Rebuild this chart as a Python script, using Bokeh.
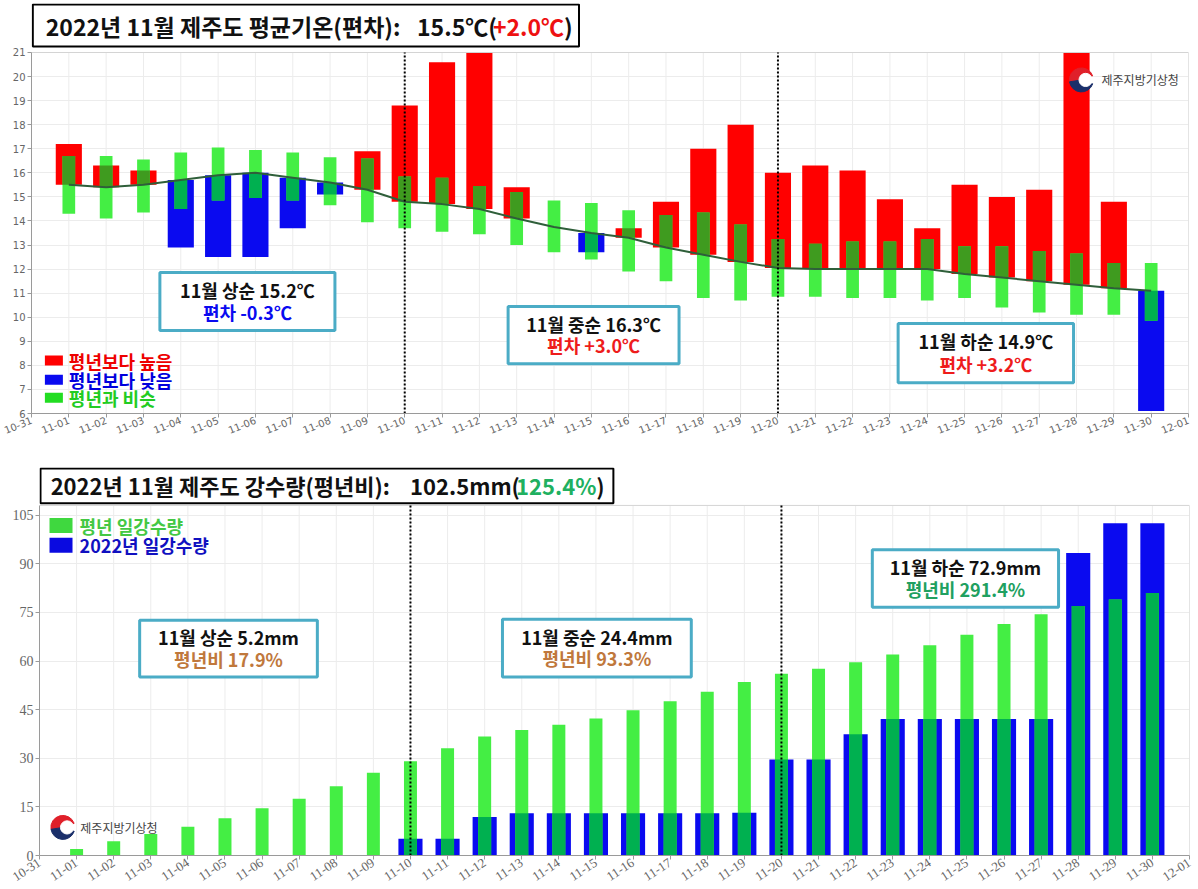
import numpy as np
from bokeh.plotting import figure
from bokeh.models import Range1d, FixedTicker, BoxAnnotation, Label, Spacer
from bokeh.layouts import column, row
from bokeh.embed import file_html
from bokeh.resources import INLINE
from bokeh.core.properties import value

# ---------------- data ----------------
tick_labels = ["10-31", "11-01", "11-02", "11-03", "11-04", "11-05", "11-06", "11-07",
               "11-08", "11-09", "11-10", "11-11", "11-12", "11-13", "11-14", "11-15",
               "11-16", "11-17", "11-18", "11-19", "11-20", "11-21", "11-22", "11-23",
               "11-24", "11-25", "11-26", "11-27", "11-28", "11-29", "11-30", "12-01"]
days = ["11-01", "11-02", "11-03", "11-04", "11-05", "11-06", "11-07", "11-08", "11-09", "11-10",
        "11-11", "11-12", "11-13", "11-14", "11-15", "11-16", "11-17", "11-18", "11-19", "11-20",
        "11-21", "11-22", "11-23", "11-24", "11-25", "11-26", "11-27", "11-28", "11-29", "11-30"]

# daily mean temperature 2022 (degC)
temp_2022 = [17.2, 16.3, 16.1, 12.9, 12.5, 12.5, 13.7, 15.1, 16.9, 18.8,
             20.6, 21.1, 15.4, 13.75, 12.7, 13.7, 14.8, 17.0, 18.0, 16.0,
             16.3, 16.1, 14.9, 13.7, 15.5, 15.0, 15.3, 21.3, 14.8, 6.1]
# normal daily mean temperature (degC)
temp_normal = [15.5, 15.4, 15.5, 15.7, 15.9, 16.0, 15.8, 15.6, 15.3, 14.8,
               14.7, 14.5, 14.1, 13.75, 13.5, 13.3, 12.9, 12.6, 12.3, 12.05,
               12.0, 12.0, 12.0, 12.0, 11.8, 11.65, 11.5, 11.35, 11.2, 11.1]
# range regarded as "similar to normal" (degC)
temp_sim_low = [14.3, 14.1, 14.35, 14.5, 14.85, 14.95, 14.85, 14.65, 13.95, 13.7,
                13.55, 13.45, 13.0, 12.7, 12.4, 11.9, 11.5, 10.8, 10.7, 10.85,
                10.85, 10.8, 10.8, 10.7, 10.8, 10.4, 10.2, 10.1, 10.1, 9.85]
temp_sim_high = [16.7, 16.7, 16.55, 16.85, 17.05, 16.95, 16.85, 16.65, 16.6, 15.85,
                 15.8, 15.45, 15.2, 14.85, 14.75, 14.45, 14.25, 14.35, 13.85, 13.25,
                 13.05, 13.15, 13.15, 13.25, 12.95, 12.95, 12.75, 12.65, 12.25, 12.25]

# cumulative precipitation (mm)
rain_normal_cum = [2.0, 4.4, 6.6, 8.9, 11.5, 14.6, 17.5, 21.4, 25.5, 29.1,
                   33.1, 36.7, 38.7, 40.3, 42.3, 44.8, 47.6, 50.5, 53.5, 56.1,
                   57.6, 59.6, 62.0, 64.9, 68.1, 71.4, 74.4, 77.0, 79.0, 81.0]
rain_2022_cum = [0.0, 0.0, 0.0, 0.0, 0.0, 0.0, 0.0, 0.0, 0.0, 5.2,
                 5.2, 11.9, 13.0, 13.0, 13.0, 13.0, 13.0, 13.0, 13.2, 29.6,
                 29.6, 37.4, 42.1, 42.1, 42.1, 42.1, 42.1, 93.3, 102.5, 102.5]

dekad_names = ["11월 상순", "11월 중순", "11월 하순"]
dekad_bounds = ["11-10", "11-20"]
temp_dekad_mean = [15.2, 16.3, 14.9]
temp_dekad_anom = [-0.3, 3.0, 3.2]
rain_dekad_total = [5.2, 24.4, 72.9]
rain_dekad_ratio = [17.9, 93.3, 291.4]

temp_month = 15.5
temp_month_anom = 2.0
rain_month = 102.5
rain_month_ratio = 125.4

temp_yticks = list(range(6, 22))
rain_yticks = [0, 15, 30, 45, 60, 75, 90, 105]

temp_legend = ["평년보다 높음", "평년보다 낮음", "평년과 비슷"]
rain_legend = ["평년 일강수량", "2022년 일강수량"]
logo_text = "제주지방기상청"

# ---------------- style ----------------
FONT = "Noto Sans CJK KR"
RED = "#ff0000"
BLUE = "#0a0af0"
LGREEN = "#44ee44"
DGREEN_R = "#3f9b1f"
DGREEN_B = "#00b050"
TEAL = "#4bacc6"
LINE = "#2f5f3a"
FRAME = "#d4d4d4"
GRID = "#ececec"

x = np.array([tick_labels.index(d) for d in days], dtype=float)
xb = [tick_labels.index(d) for d in dekad_bounds]
xt = list(range(len(tick_labels)))


def base_fig(w, h, left, right, top, bottom, ylo, yhi, ytop):
    p = figure(width=w, height=h, x_range=Range1d(0, len(tick_labels) - 1),
               y_range=Range1d(ylo, ytop), output_backend="svg", toolbar_location=None,
               min_border_left=left, min_border_right=right, min_border_top=top,
               min_border_bottom=bottom)
    p.outline_line_color = None
    p.xgrid.visible = False
    p.ygrid.grid_line_color = GRID
    # vertical grid lines limited to the plotting area (title box sits above it)
    p.segment(x0=xt, y0=[ylo] * len(xt), x1=xt, y1=[yhi] * len(xt), line_color=GRID,
              line_width=1)
    return p


def style_axes(p, xfont, xsize, xangle, yfont, ysize, yticks, ybounds):
    p.xaxis.ticker = FixedTicker(ticks=xt)
    p.xaxis.major_label_overrides = {i: lab for i, lab in enumerate(tick_labels)}
    p.xaxis.major_label_orientation = xangle
    p.yaxis.ticker = FixedTicker(ticks=yticks)
    p.yaxis.bounds = ybounds
    for ax in (p.xaxis, p.yaxis):
        ax.axis_line_color = "#9a9a9a"
        ax.major_tick_line_color = "#9a9a9a"
        ax.minor_tick_line_color = None
        ax.major_tick_out = 4
        ax.major_tick_in = 0
        ax.major_label_text_color = "#666666"
        ax.major_label_standoff = 2
    p.xaxis.major_label_text_font = xfont
    p.xaxis.major_label_text_font_size = xsize
    p.yaxis.major_label_text_font = yfont
    p.yaxis.major_label_text_font_size = ysize


def frame_lines(p, ylo, yhi):
    xr = len(tick_labels) - 1
    p.segment(x0=[0, xr], y0=[yhi, ylo], x1=[xr, xr], y1=[yhi, yhi], line_color=FRAME,
              line_width=1)
    p.segment(x0=xb, y0=[ylo] * len(xb), x1=xb, y1=[yhi] * len(xb), line_color="black",
              line_width=2, line_dash="2 2")


def title_box(p, box, yc, text_x, main, mid, colored, ccolor, tail_x, mid_x, size):
    l, r, b, t = box
    p.quad(left=[l], right=[r], bottom=[b], top=[t], fill_color="white",
           line_color="black", line_width=2)
    common = dict(text_font=value(FONT), text_font_size=value(size), text_font_style="bold",
                  text_baseline="middle")
    p.text(x=[text_x], y=[yc], text=[main], text_align="left", text_color="#111111", **common)
    p.text(x=[tail_x], y=[yc], text=[")"], text_align="left", text_color="#111111", **common)
    p.text(x=[tail_x], y=[yc], text=[colored], text_align="right", text_color=ccolor, **common)
    p.text(x=[mid_x], y=[yc], text=[mid], text_align="right", text_color="#111111", **common)


def info_box(p, box, line1, line2, c2, size="18px"):
    l, r, b, t = box
    p.add_layout(BoxAnnotation(left=l, right=r, bottom=b, top=t, fill_color="white",
                               fill_alpha=1.0, line_color=TEAL, line_alpha=1.0, line_width=3))
    h = t - b
    xc = (l + r) / 2
    for yy, txt, col in ((t - 0.3 * h, line1, "#111111"), (b + 0.32 * h, line2, c2)):
        p.add_layout(Label(x=xc, y=yy, text=txt, text_align="center", text_baseline="middle",
                           text_font=FONT, text_font_size=size, text_font_style="bold",
                           text_color=col))


def logo(p, cx, cy, px_per_x, tx):
    r = 12
    p.wedge(x=[cx], y=[cy], radius=r, radius_units="screen", start_angle=0.35, end_angle=3.3,
            color="#e0202a")
    p.wedge(x=[cx], y=[cy], radius=r, radius_units="screen", start_angle=3.3, end_angle=5.95,
            color="#1a2f6a")
    p.scatter(x=[cx + 0.35 * r / px_per_x], y=[cy], size=r * 1.1, color="white", marker="circle")
    p.text(x=[tx], y=[cy], text=[logo_text], text_font=value(FONT), text_font_size=value("12px"),
           text_color="#444444", text_baseline="middle", text_align="left")


# ---------------- temperature chart ----------------
p1 = base_fig(1196, 441, 31, 8, 3, 28, 6, 21, 23.036)
style_axes(p1, "DejaVu Sans", "10px", 0.38, "DejaVu Sans", "10px", temp_yticks, (6, 21))

t_act = np.array(temp_2022)
t_nor = np.array(temp_normal)
g_lo = np.array(temp_sim_low)
g_hi = np.array(temp_sim_high)
bar_lo = np.minimum(t_act, t_nor)
bar_hi = np.minimum(np.maximum(t_act, t_nor), 21)
above = t_act >= t_nor
p1.vbar(x=x, bottom=bar_lo, top=bar_hi, width=0.7, color=list(np.where(above, RED, BLUE)),
        line_width=0)
p1.vbar(x=x, bottom=g_lo, top=g_hi, width=0.34, color=LGREEN, line_width=0)
ov_lo = np.maximum(bar_lo, g_lo)
ov_hi = np.minimum(bar_hi, g_hi)
m = ov_hi > ov_lo
p1.vbar(x=x[m], bottom=ov_lo[m], top=ov_hi[m], width=0.34,
        color=list(np.where(above[m], DGREEN_R, DGREEN_B)), line_width=0)
p1.line(x=x, y=t_nor, line_color=LINE, line_width=2)
frame_lines(p1, 6, 21)

temp_boxes = [(3.44, 8.13, 9.45, 11.86), (12.77, 17.35, 8.07, 10.45), (23.22, 27.92, 7.28, 9.74)]
for i, bx in enumerate(temp_boxes):
    a = temp_dekad_anom[i]
    info_box(p1, bx, f"{dekad_names[i]} {temp_dekad_mean[i]:.1f}℃", f"편차 {a:+.1f}℃",
             BLUE if a < 0 else "#ee1c1c")

leg_y1 = [8.2, 7.4, 6.65]
p1.rect(x=[0.6] * 3, y=leg_y1, width=18, height=10, width_units="screen", height_units="screen",
        color=[RED, BLUE, "#22dd22"], line_width=0)
p1.text(x=[1.0] * 3, y=leg_y1, text=temp_legend, text_color=["#ee0000", "#0000dd", "#22cc22"],
        text_font=value(FONT), text_font_size=value("18px"), text_font_style="bold",
        text_baseline="middle", text_align="left")

logo(p1, 28.13, 19.86, 37.3, 28.67)

title_box(p1, (0.035, 14.67, 21.25, 22.99), 22.12, 0.383, "2022년 11월 제주도 평균기온(편차):",
          f"{temp_month:.1f}℃(", f"{temp_month_anom:+.1f}℃", "#ee1111", 14.27, 12.47, "23px")

# ---------------- precipitation chart ----------------
p2 = base_fig(1189, 446, 31, 8, 26, 29, 0, 108, 119.7)
style_axes(p2, "Liberation Sans Narrow", "13px", 0.58, "Liberation Sans Narrow", "14px",
           rain_yticks, (0, 108))

r_nor = np.array(rain_normal_cum)
r_act = np.array(rain_2022_cum)
p2.vbar(x=x, bottom=0, top=r_act, width=0.65, color=BLUE, line_width=0)
p2.vbar(x=x, bottom=0, top=r_nor, width=0.35, color=LGREEN, line_width=0)
p2.vbar(x=x, bottom=0, top=np.minimum(r_nor, r_act), width=0.35, color=DGREEN_B, line_width=0)
frame_lines(p2, 0, 108)

rain_boxes = [(2.70, 7.49, 55.1, 72.6), (12.48, 17.57, 55.1, 72.9), (22.45, 27.47, 76.6, 94.3)]
for i, bx in enumerate(rain_boxes):
    rr = rain_dekad_ratio[i]
    info_box(p2, bx, f"{dekad_names[i]} {rain_dekad_total[i]:.1f}mm", f"평년비 {rr:.1f}%",
             "#20a060" if rr > 100 else "#c0783c")

leg_y2 = [101.8, 95.7]
p2.rect(x=[0.58] * 2, y=leg_y2, width=23, height=15, width_units="screen", height_units="screen",
        color=["#3fd83f", "#0a0ae0"], line_width=0)
p2.text(x=[1.08] * 2, y=leg_y2, text=rain_legend, text_color=["#44c844", "#1010c0"],
        text_font=value(FONT), text_font_size=value("18px"), text_font_style="bold",
        text_baseline="middle", text_align="left")

logo(p2, 0.63, 8.66, 37.1, 1.1)

title_box(p2, (0.027, 15.47, 108.67, 119.4), 114.2, 0.30, "2022년 11월 제주도 강수량(평년비):",
          f"{rain_month:.1f}mm(", f"{rain_month_ratio:.1f}%", "#20b060", 15.01, 12.95, "22px")

layout = column(p1, row(Spacer(width=8), p2, spacing=0), spacing=0)
open("out.html", "w").write(file_html(layout, INLINE))
